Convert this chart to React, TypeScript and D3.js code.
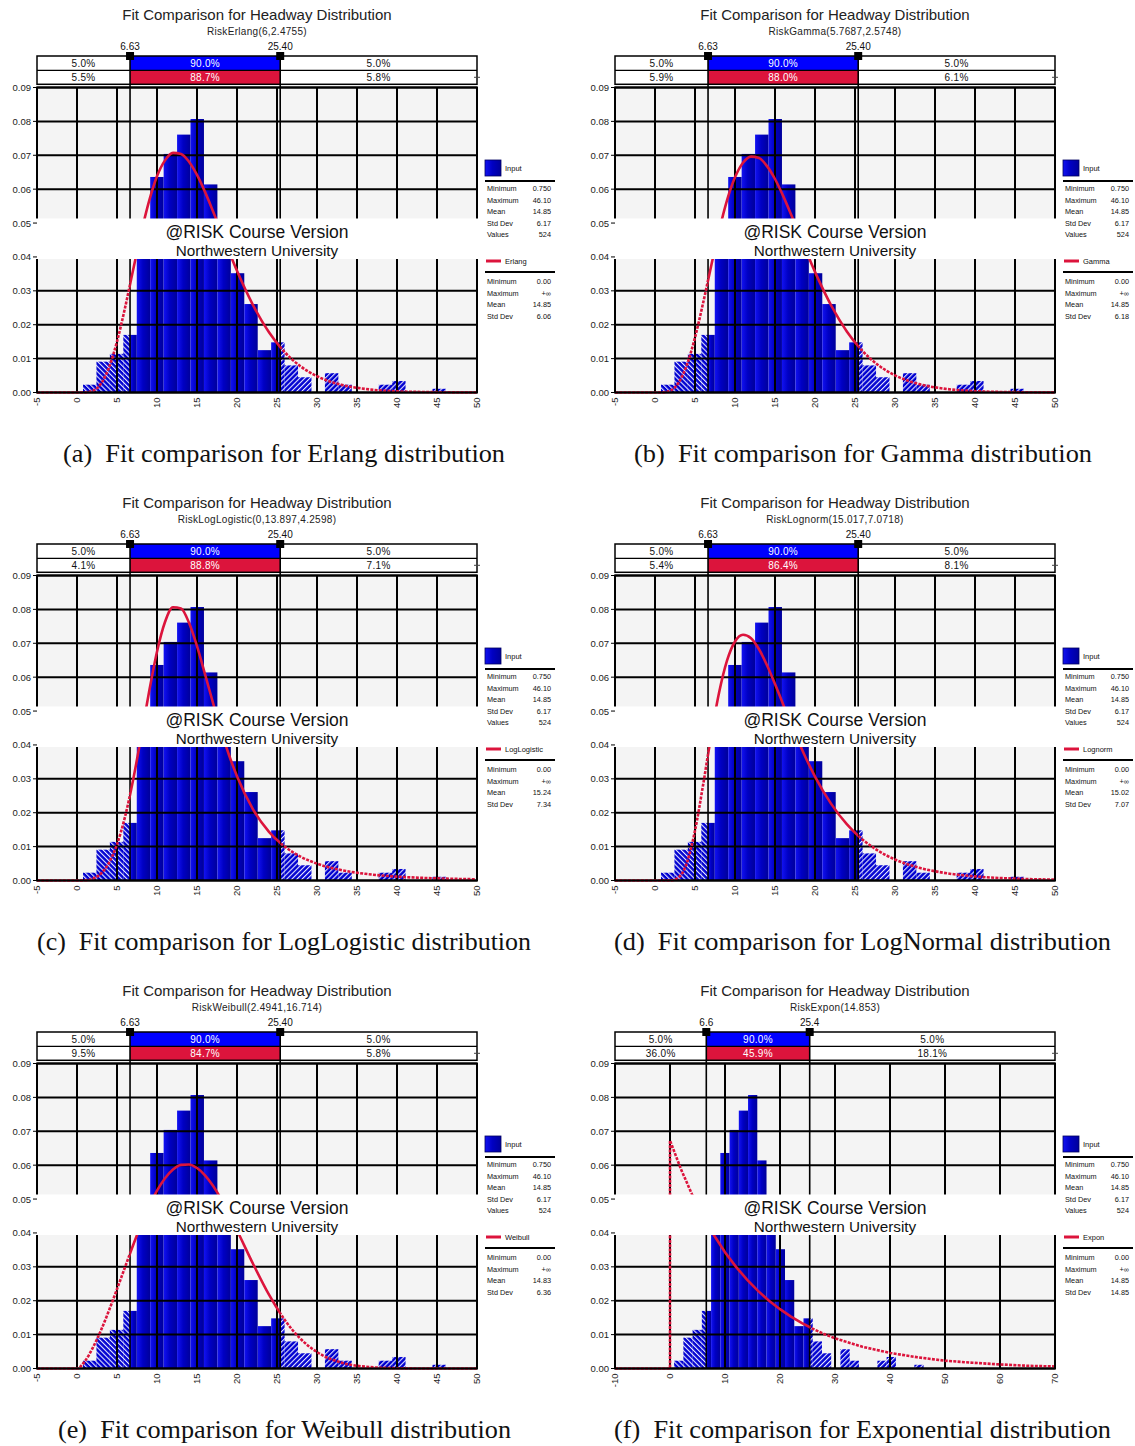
import * as d3 from 'd3';

// histogram of the 524 headway values (same input in every panel)
const binEdges = [0.75, 2.43, 4.11, 5.79, 7.47, 9.15, 10.83, 12.51, 14.19, 15.87, 17.55, 19.23, 20.91, 22.59, 24.27, 25.95, 27.63, 29.31, 30.99, 32.67, 34.35, 36.03, 37.71, 39.39, 41.07, 42.75, 44.43, 46.11];
const binDensity = [0.0023, 0.0091, 0.0114, 0.017, 0.0432, 0.0636, 0.0704, 0.0761, 0.0807, 0.0614, 0.0443, 0.0352, 0.0261, 0.0125, 0.0148, 0.008, 0.0045, 0, 0.0057, 0.0023, 0, 0, 0.0023, 0.0034, 0, 0, 0.0011];

const yTicks = [0, 0.01, 0.02, 0.03, 0.04, 0.05, 0.06, 0.07, 0.08, 0.09];
const xTicksStd = [-5, 0, 5, 10, 15, 20, 25, 30, 35, 40, 45, 50];
const xTicksExp = [-10, 0, 10, 20, 30, 40, 50, 60, 70];

// fitted density curves
const fitX = [-5, 0, 1, 2, 3, 4, 5, 6, 7, 8, 9, 10, 11, 12, 13, 14, 15, 16, 17, 18, 19, 20, 22, 24, 26, 28, 30, 33, 36, 40, 45, 50];
const erlangY = [0, 0, 0.00002, 0.00052, 0.00262, 0.00737, 0.01502, 0.02494, 0.036, 0.04686, 0.0564, 0.0638, 0.0685, 0.0707, 0.0704, 0.0681, 0.0642, 0.0592, 0.0535, 0.0476, 0.0416, 0.0359, 0.0258, 0.01775, 0.01181, 0.00762, 0.0048, 0.0023, 0.00106, 0.00036, 0.00009, 0.00002];
const gammaY = [0, 0, 0.00004, 0.00066, 0.00309, 0.00826, 0.01623, 0.02627, 0.0371, 0.0476, 0.0567, 0.0635, 0.0678, 0.0696, 0.0692, 0.0668, 0.063, 0.0581, 0.0526, 0.0468, 0.0411, 0.0356, 0.0258, 0.01795, 0.0121, 0.00792, 0.00506, 0.00249, 0.00118, 0.00041, 0.0001, 0.00003];
const loglogY = [0, 0, 0.00006, 0.00055, 0.00207, 0.00523, 0.01067, 0.01877, 0.02952, 0.04223, 0.05555, 0.06752, 0.07628, 0.08061, 0.08029, 0.07605, 0.06915, 0.06091, 0.05239, 0.0443, 0.03704, 0.03075, 0.02101, 0.01437, 0.00994, 0.00697, 0.00497, 0.00309, 0.00198, 0.00115, 0.00063, 0.00036];
const lognormY = [0, 0, 0, 0.00005, 0.001, 0.00534, 0.01472, 0.02804, 0.04249, 0.05532, 0.06486, 0.07051, 0.0725, 0.07148, 0.06824, 0.06353, 0.05799, 0.05211, 0.04625, 0.04064, 0.03543, 0.03068, 0.02269, 0.01655, 0.01198, 0.00863, 0.0062, 0.00378, 0.00231, 0.00121, 0.00055, 0.00026];
const weibullY = [0, 0, 0.00222, 0.00622, 0.01131, 0.01713, 0.02341, 0.02987, 0.03627, 0.04232, 0.0478, 0.05247, 0.05616, 0.05872, 0.06008, 0.06021, 0.05916, 0.05702, 0.05392, 0.05006, 0.04562, 0.04081, 0.03092, 0.02177, 0.01423, 0.00863, 0.00485, 0.00176, 0.00054, 0.00008, 0, 0];
const exponX = [-10, 0, 0, 2, 4, 6, 8, 10, 12, 14, 16, 18, 20, 22, 24, 26, 28, 30, 35, 40, 45, 50, 55, 60, 65, 70];
const exponY = [0, 0, 0.0673, 0.0588, 0.0514, 0.045, 0.0393, 0.0343, 0.03, 0.0262, 0.0229, 0.02, 0.0175, 0.0153, 0.0134, 0.0117, 0.0102, 0.0089, 0.0064, 0.0046, 0.0033, 0.0023, 0.0017, 0.0012, 0.0008, 0.0006];
const fitSeries = [erlangY, gammaY, loglogY, lognormY, weibullY, exponY];

const subtitles = ['RiskErlang(6,2.4755)', 'RiskGamma(5.7687,2.5748)', 'RiskLogLogistic(0,13.897,4.2598)', 'RiskLognorm(15.017,7.0718)', 'RiskWeibull(2.4941,16.714)', 'RiskExpon(14.853)'];
const markerLo = [6.63, 6.63, 6.63, 6.63, 6.63, 6.6];
const markerHi = [25.4, 25.4, 25.4, 25.4, 25.4, 25.4];
const markerLoText = ['6.63', '6.63', '6.63', '6.63', '6.63', '6.6'];
const markerHiText = ['25.40', '25.40', '25.40', '25.40', '25.40', '25.4'];
const inputPct = ['5.0%', '90.0%', '5.0%'];
const fitPctLow = ['5.5%', '5.9%', '4.1%', '5.4%', '9.5%', '36.0%'];
const fitPctMid = ['88.7%', '88.0%', '88.8%', '86.4%', '84.7%', '45.9%'];
const fitPctHigh = ['5.8%', '6.1%', '7.1%', '8.1%', '5.8%', '18.1%'];
const fitNames = ['Erlang', 'Gamma', 'LogLogistic', 'Lognorm', 'Weibull', 'Expon'];
const fitMeans = ['14.85', '14.85', '15.24', '15.02', '14.83', '14.85'];
const fitStdDevs = ['6.06', '6.18', '7.34', '7.07', '6.36', '14.85'];
const inputStatLabels = ['Minimum', 'Maximum', 'Mean', 'Std Dev', 'Values'];
const inputStatValues = ['0.750', '46.10', '14.85', '6.17', '524'];
const fitStatLabels = ['Minimum', 'Maximum', 'Mean', 'Std Dev'];
const captionLetters = ['(a)', '(b)', '(c)', '(d)', '(e)', '(f)'];
const captionNames = ['Erlang', 'Gamma', 'LogLogistic', 'LogNormal', 'Weibull', 'Exponential'];

// caption layout (centre inside the column, rendered width)
const captionCentre = [284, 285, 284, 284.5, 284.5, 284.5];
const captionWidth = [442, 458, 494, 497, 453, 497];

const SANS = '"Liberation Sans", Arial, sans-serif';
const RED = '#dc143c';

function Panel({ i }: { i: number }) {
  const ox = (i % 2) * 578;
  const oy = Math.floor(i / 2) * 488;
  const L = 37, R = 477, T = 87.5, B = 392.5;
  const boxTop = 56, boxMid = 70.3, boxBot = 84.3;
  const isExp = i === 5;
  const xTicks = isExp ? xTicksExp : xTicksStd;
  const x = d3.scaleLinear().domain([xTicks[0], xTicks[xTicks.length - 1]]).range([L, R]);
  const y = d3.scaleLinear().domain([0, 0.09]).range([B, T]);
  const lo = markerLo[i], hi = markerHi[i];
  const xl = x(lo), xh = x(hi);
  const cx = isExp ? exponX : fitX;
  const line = d3.line<number>()
    .x((_, k) => x(cx[k]))
    .y(v => y(v))
    .curve(isExp ? d3.curveLinear : d3.curveMonotoneX);
  const path = line(fitSeries[i]) ?? '';

  const pieces: { a: number; b: number; d: number; fill: string }[] = [];
  binDensity.forEach((d, k) => {
    if (!d) return;
    const a = binEdges[k], b = binEdges[k + 1];
    if (a < lo) pieces.push({ a, b: Math.min(b, lo), d, fill: 'url(#hatchL)' });
    if (b > lo && a < hi) pieces.push({ a: Math.max(a, lo), b: Math.min(b, hi), d, fill: 'url(#barGrad)' });
    if (b > hi) pieces.push({ a: Math.max(a, hi), b, d, fill: 'url(#hatchR)' });
  });

  const id = `p${i}`;
  const legX = 485;

  return (
    <g transform={`translate(${ox},${oy})`}>
      <defs>
        <clipPath id={`${id}l`}><rect x={L} y={T - 3} width={xl - L} height={B - T + 6} /></clipPath>
        <clipPath id={`${id}m`}><rect x={xl} y={T - 3} width={xh - xl} height={B - T + 6} /></clipPath>
        <clipPath id={`${id}r`}><rect x={xh} y={T - 3} width={R - xh} height={B - T + 6} /></clipPath>
      </defs>

      <text x={257} y={20} textAnchor="middle" fontFamily={SANS} fontSize={15} fill="#222">Fit Comparison for Headway Distribution</text>
      <text x={257} y={35} textAnchor="middle" fontFamily={SANS} fontSize={10} letterSpacing={0.3} fill="#222">{subtitles[i]}</text>

      {/* plot area */}
      <rect x={L} y={T} width={R - L} height={B - T} fill="#f4f4f4" />
      {pieces.map((p, k) => (
        <rect key={k} x={x(p.a)} y={y(p.d)} width={x(p.b) - x(p.a)} height={B - y(p.d)} fill={p.fill} />
      ))}
      {yTicks.map(t => (
        <line key={`gy${t}`} x1={L} x2={R} y1={y(t)} y2={y(t)} stroke="#000" strokeWidth={2} />
      ))}
      {xTicks.map(t => (
        <line key={`gx${t}`} x1={x(t)} x2={x(t)} y1={T} y2={B} stroke="#000" strokeWidth={2} />
      ))}
      {[xl, xh].map((v, k) => (
        <line key={`m${k}`} x1={v} x2={v} y1={boxTop} y2={B} stroke="#000" strokeWidth={1.6} />
      ))}
      <path d={path} clipPath={`url(#${id}l)`} fill="none" stroke={RED} strokeWidth={2.6} strokeDasharray="3 1.3" />
      <path d={path} clipPath={`url(#${id}m)`} fill="none" stroke={RED} strokeWidth={2.6} />
      <path d={path} clipPath={`url(#${id}r)`} fill="none" stroke={RED} strokeWidth={2.6} strokeDasharray="3 1.3" />
      <rect x={L} y={T} width={R - L} height={B - T} fill="none" stroke="#000" strokeWidth={2} />

      {/* watermark */}
      <rect x={L - 1.5} y={T + 131} width={R - L + 3} height={40.5} fill="#fff" />
      <text x={(L + R) / 2} y={T + 150} textAnchor="middle" fontFamily={SANS} fontSize={17.5} fill="#111">@RISK Course Version</text>
      <text x={(L + R) / 2} y={T + 168} textAnchor="middle" fontFamily={SANS} fontSize={15.3} fill="#111">Northwestern University</text>

      {/* y axis */}
      {yTicks.map(t => (
        <g key={`ty${t}`}>
          <line x1={L - 4} x2={L} y1={y(t)} y2={y(t)} stroke="#000" strokeWidth={1} />
          <text x={31} y={y(t) + 3.5} textAnchor="end" fontFamily={SANS} fontSize={9.5} fill="#222">{t.toFixed(2)}</text>
        </g>
      ))}
      {/* x axis */}
      {xTicks.map(t => (
        <text key={`tx${t}`} transform={`translate(${x(t)},${B + 5}) rotate(-90)`} textAnchor="end" dy="0.35em" fontFamily={SANS} fontSize={9.5} fill="#222">{t}</text>
      ))}

      {/* delimiter box */}
      <rect x={L} y={boxTop} width={R - L} height={boxBot - boxTop} fill="#fff" />
      <rect x={xl} y={boxTop} width={xh - xl} height={boxMid - boxTop} fill="#0000ff" />
      <rect x={xl} y={boxMid} width={xh - xl} height={boxBot - boxMid} fill={RED} />
      <rect x={L} y={boxTop} width={R - L} height={boxBot - boxTop} fill="none" stroke="#000" strokeWidth={1.5} />
      <line x1={L} x2={R} y1={boxMid} y2={boxMid} stroke="#000" strokeWidth={1.2} />
      {[xl, xh].map((v, k) => (
        <line key={`bm${k}`} x1={v} x2={v} y1={boxTop} y2={boxBot} stroke="#000" strokeWidth={1.6} />
      ))}
      {[(L + xl) / 2, (xl + xh) / 2, (xh + R) / 2].map((cxv, k) => (
        <g key={`pct${k}`} fontFamily={SANS} fontSize={10} letterSpacing={0.3} textAnchor="middle">
          <text x={cxv} y={boxTop + 11} fill={k === 1 ? '#fff' : '#111'}>{inputPct[k]}</text>
          <text x={cxv} y={boxMid + 11} fill={k === 1 ? '#fff' : '#111'}>{[fitPctLow[i], fitPctMid[i], fitPctHigh[i]][k]}</text>
        </g>
      ))}
      {[xl, xh].map((v, k) => (
        <g key={`sq${k}`}>
          <rect x={v - 4} y={boxTop - 4} width={8} height={8} fill="#000" />
          <text x={v} y={50} textAnchor="middle" fontFamily={SANS} fontSize={10} fill="#111">{k === 0 ? markerLoText[i] : markerHiText[i]}</text>
        </g>
      ))}
      <line x1={R - 3} x2={R + 3} y1={boxMid + 7} y2={boxMid + 7} stroke="#444" strokeWidth={1} />
      <line x1={R} x2={R} y1={boxMid + 4} y2={boxMid + 10} stroke="#444" strokeWidth={1} />

      {/* legend */}
      <rect x={legX} y={160} width={16} height={16} fill="url(#barGrad)" stroke="#000060" strokeWidth={0.8} />
      <text x={legX + 20} y={171} fontFamily={SANS} fontSize={7.5} fill="#111">Input</text>
      <line x1={legX} x2={legX + 70} y1={181} y2={181} stroke="#000" strokeWidth={2} />
      {inputStatLabels.map((lab, k) => (
        <g key={`is${k}`} fontFamily={SANS} fontSize={7.3} fill="#111">
          <text x={legX + 2} y={191 + k * 11.5}>{lab}</text>
          <text x={legX + 66} y={191 + k * 11.5} textAnchor="end">{inputStatValues[k]}</text>
        </g>
      ))}
      <line x1={legX + 1} x2={legX + 16} y1={261} y2={261} stroke={RED} strokeWidth={3} />
      <text x={legX + 20} y={264} fontFamily={SANS} fontSize={7.5} fill="#111">{fitNames[i]}</text>
      <line x1={legX} x2={legX + 70} y1={272} y2={272} stroke="#000" strokeWidth={2} />
      {fitStatLabels.map((lab, k) => (
        <g key={`fs${k}`} fontFamily={SANS} fontSize={7.3} fill="#111">
          <text x={legX + 2} y={284 + k * 11.5}>{lab}</text>
          <text x={legX + 66} y={284 + k * 11.5} textAnchor="end">{['0.00', '+\u221e', fitMeans[i], fitStdDevs[i]][k]}</text>
        </g>
      ))}

      {/* caption */}
      <text x={captionCentre[i]} y={462} textAnchor="middle" textLength={captionWidth[i]} lengthAdjust="spacingAndGlyphs"
        fontFamily='"Liberation Serif", "Times New Roman", serif' fontSize={24.5} fill="#111">
        {`${captionLetters[i]}\u00a0 Fit comparison for ${captionNames[i]} distribution`}
      </text>
    </g>
  );
}

export default function App() {
  return (
    <svg width={1135} height={1446} style={{ position: 'absolute', left: 0, top: 0, background: '#fff' }}>
      <defs>
        <linearGradient id="barGrad" x1="0" x2="1" y1="0" y2="0">
          <stop offset="0" stopColor="#1212f2" />
          <stop offset="0.45" stopColor="#0000c4" />
          <stop offset="1" stopColor="#00009a" />
        </linearGradient>
        <pattern id="hatchL" patternUnits="userSpaceOnUse" width={3.6} height={3.6} patternTransform="rotate(-45)">
          <rect width={3.6} height={3.6} fill="#0000d0" />
          <rect width={1.1} height={3.6} fill="#e8e8ff" />
        </pattern>
        <pattern id="hatchR" patternUnits="userSpaceOnUse" width={3.6} height={3.6} patternTransform="rotate(45)">
          <rect width={3.6} height={3.6} fill="#0000d0" />
          <rect width={1.1} height={3.6} fill="#e8e8ff" />
        </pattern>
      </defs>
      {[0, 1, 2, 3, 4, 5].map(i => <Panel key={i} i={i} />)}
    </svg>
  );
}
